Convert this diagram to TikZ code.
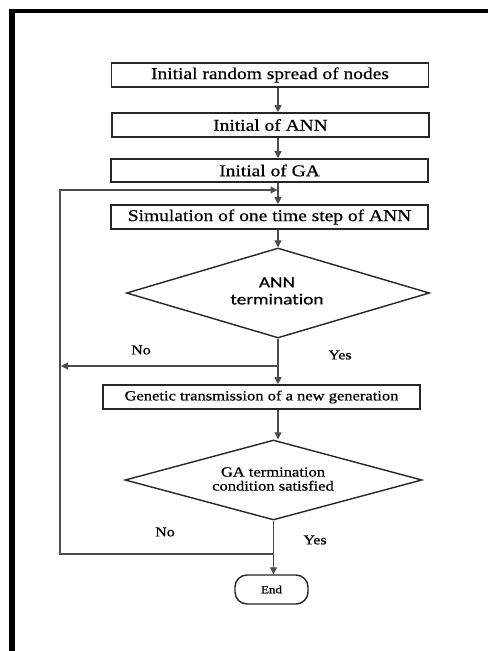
\documentclass[tikz,border=0pt]{standalone}
\usepackage{fontspec}
\setmainfont{Liberation Serif}
\newfontfamily\serifw[FakeStretch=1.18,FakeBold=0.6]{Liberation Serif}
\newfontfamily\sansw[FakeStretch=1.25,FakeBold=0.4,Ligatures=NoCommon]{Carlito}
\usetikzlibrary{shapes.geometric,arrows.meta}
\begin{document}
\begin{tikzpicture}[x=1pt,y=-1pt,
  stepbox/.style={draw=black!85,line width=1.6pt,minimum width=317pt,minimum height=24pt,inner sep=0pt,
     font=\serifw\fontsize{16.5pt}{19pt}\selectfont},
  decbox/.style={draw=black!85,line width=1.4pt,diamond,inner sep=0pt},
  dectext/.style={align=center,inner sep=0pt},
  endbox/.style={draw=black!85,line width=1.4pt,rounded corners=12pt,minimum width=73pt,minimum height=29pt,inner sep=0pt,
     font=\serifw\fontsize{11pt}{13pt}\selectfont},
  conn/.style={draw=black!70,line width=1.1pt},
  arr/.style={conn,-{Triangle[length=7pt,width=7pt]}},
  lbl/.style={font=\serifw\fontsize{13.5pt}{15pt}\selectfont,inner sep=0pt}
]
\useasboundingbox (0,0) rectangle (488,651);
\fill[white] (0,0) rectangle (488,651);
% frame
\fill[black] (9,9) rectangle (15,651);
\fill[black] (9,9) rectangle (488,13);

\node[stepbox] (b1) at (270,75) {Initial random spread of nodes};
\node[stepbox] (b2) at (270.5,125) {Initial of ANN};
\node[stepbox,minimum height=23pt] (b3) at (269.5,170.5) {Initial of GA};
\node[stepbox] (b4) at (269.5,217) {Simulation of one time step of ANN};
\node[decbox,minimum width=303pt,minimum height=90pt] (d1) at (278,293) {};
\node[dectext,font=\sansw\fontsize{15.5pt}{17pt}\selectfont] (d1t) at (277,291) {ANN\\termination};
\node[stepbox,font=\serifw\fontsize{14pt}{16pt}\selectfont] (b5) at (261.5,397) {Genetic transmission of a new generation};
\node[decbox,minimum width=297pt,minimum height=80pt] (d2) at (273.5,480) {};
\node[dectext,font=\serifw\fontsize{14pt}{14pt}\selectfont] (d2t) at (273,479) {GA termination\\condition satisfied};
\node[endbox] (e) at (271.5,589.5) {End};

\coordinate (ax) at (278,0);
\coordinate (join) at (278,190);
\coordinate (loopTL) at (60,190);
\coordinate (loopBL) at (60,554);
\coordinate (loopBR) at (273.5,554);
\coordinate (noJ) at (278,366);
\coordinate (noE) at (61,366);

\draw[arr] (b1.south -| ax) -- (b2.north -| ax);
\draw[arr] (b2.south -| ax) -- (b3.north -| ax);
\draw[arr] (b3.south -| ax) -- (b4.north -| ax);
\draw[arr] (b4.south -| ax) -- (d1.north);
\draw[arr] (d1.south) -- (b5.north -| ax);
\draw[arr] (b5.south -| ax) -- (d2.north -| ax);
\draw[arr] (d2.south) -- (e.north -| d2.south);
\draw[arr] (noJ) -- (noE);
\draw[arr] (loopBR) -- (loopBL) -- (loopTL) -- ([xshift=-0.5pt]join);

\node[lbl] at (141,350) {No};
\node[lbl] at (340,355) {Yes};
\node[lbl] at (165,532) {No};
\node[lbl] at (315,540) {Yes};
\end{tikzpicture}
\end{document}
